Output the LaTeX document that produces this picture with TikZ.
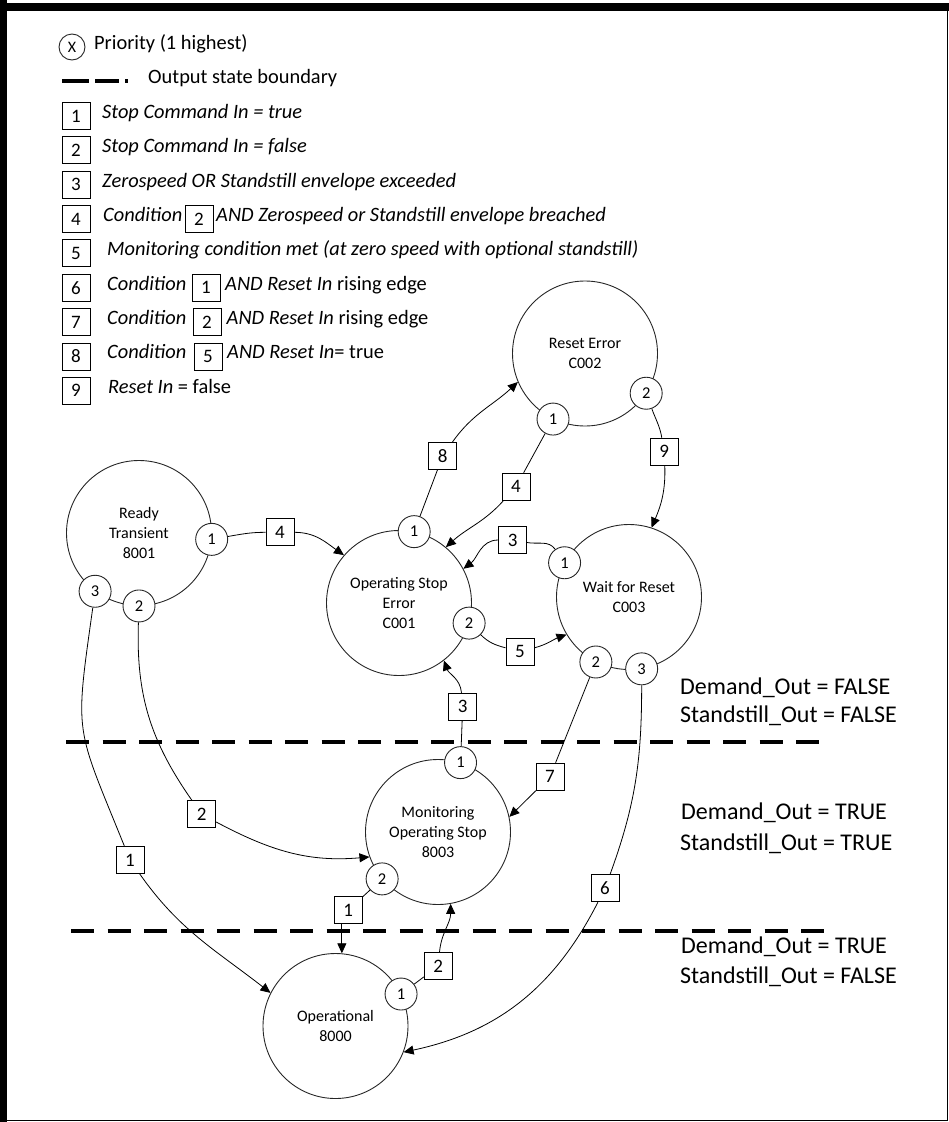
\documentclass[tikz,border=0pt]{standalone}
\usepackage{fontspec}
\setmainfont{Carlito}
\usetikzlibrary{arrows.meta,positioning}
\tikzset{
  state/.style={circle, draw=black!85, line width=0.9pt, minimum size=145pt, inner sep=0pt,
                align=center, font=\fontsize{16}{20}\selectfont},
  prio/.style={circle, draw=black!85, fill=white, line width=0.9pt, minimum size=32pt,
               inner sep=0pt, font=\fontsize{16.5}{16.5}\selectfont},
  cond/.style={rectangle, draw=black, fill=white, line width=0.9pt, minimum width=28pt,
               minimum height=27pt, inner sep=0pt, font=\fontsize{19}{19}\selectfont},
  arr/.style={-{Triangle[length=10pt,width=9pt]}, line width=0.8pt},
  wire/.style={line width=0.8pt},
  legtext/.style={anchor=mid west, inner sep=0pt, font=\fontsize{20.4}{24}\selectfont},
  outtext/.style={anchor=mid west, inner sep=0pt, font=\fontsize{24}{28}\selectfont},
  boundary/.style={line width=4pt, dash pattern=on 23pt off 13.5pt},
}

\begin{document}
\begin{tikzpicture}[x=1pt,y=1pt]
\useasboundingbox (0,0) rectangle (949,-1122);
% frame
\fill (0,0) rectangle (7,-1122);
\fill (0,-3) rectangle (949,-11);
\draw[line width=1.2pt] (947.5,-3) -- (947.5,-1120.5) -- (0,-1120.5);

% legend
\node[circle, draw=black!85, line width=0.9pt, minimum size=26pt, inner sep=0pt,
      font=\fontsize{16}{16}\selectfont] (keyX) at (72,-47) {X};
\node[legtext] (keyXt) at (94,-47) {Priority (1 highest)};
\draw[line width=3.2pt, dash pattern=on 27pt off 6pt on 24pt off 6pt on 9pt off 20pt]
  (62,-81) -- (128,-81);
\node[legtext] (keyBt) at (148,-81) {Output state boundary};
\foreach \i in {1,...,9}
  \node[cond] (key\i) at (76,{-116-34.35*(\i-1)}) {\i};
\node[legtext] (t1) at (102,-116) {\textit{Stop Command In = true}};
\node[legtext] (t2) at (102,-150.4) {\textit{Stop Command In = false}};
\node[legtext] (t3) at (102,-184.7) {\textit{Zerospeed OR Standstill envelope exceeded}};
\node[legtext] (t4a) at (103,-219) {\textit{Condition}};
\node[cond] (in4) at (199,-219) {2};
\node[legtext] (t4b) at (216,-219) {\textit{AND Zerospeed or Standstill envelope breached}};
\node[legtext] (t5) at (107,-253.4) {\textit{Monitoring condition met (at zero speed with optional standstill)}};
\node[legtext] (t6a) at (107,-287.7) {\textit{Condition}};
\node[cond] (in6) at (206,-287.7) {1};
\node[legtext] (t6b) at (225,-287.7) {\textit{AND Reset In} rising edge};
\node[legtext] (t7a) at (107,-322.1) {\textit{Condition}};
\node[cond] (in7) at (207,-322.1) {2};
\node[legtext] (t7b) at (226.5,-322.1) {\textit{AND Reset In} rising edge};
\node[legtext] (t8a) at (107,-356.5) {\textit{Condition}};
\node[cond] (in8) at (208,-356.5) {5};
\node[legtext] (t8b) at (227,-356.5) {\textit{AND Reset In}= true};
\node[legtext] (t9) at (108,-390.8) {\textit{Reset In} = false};

% output state boundaries
\draw[boundary] (66,-741.5) -- (822,-741.5);
\draw[boundary] (71,-930.5) -- (826,-930.5);
\node[outtext] (dem1) at (680,-692) {Demand\_Out = FALSE};
\node[outtext] (sst1) at (680,-720) {Standstill\_Out = FALSE};
\node[outtext] (dem2) at (681,-817) {Demand\_Out = TRUE};
\node[outtext] (sst2) at (680,-848) {Standstill\_Out = TRUE};
\node[outtext] (dem3) at (681,-951) {Demand\_Out = TRUE};
\node[outtext] (sst3) at (680,-981) {Standstill\_Out = FALSE};

% states
\node[state] (RT)  at (139,-533)   {Ready\\Transient\\8001};
\node[state] (OSE) at (399,-603)   {Operating Stop\\Error\\C001};
\node[state] (RE)  at (585,-353.5) {Reset Error\\C002};
\node[state] (WFR) at (629,-597)   {Wait for Reset\\C003};
\node[state] (MOS) at (438,-832)   {Monitoring\\Operating Stop\\8003};
\node[state] (OP)  at (335.5,-1026){Operational\\8000};

% priorities
\node[prio] (rt1)  at (RT.-5)   {1};
\node[prio] (rt2)  at (RT.-90)  {2};
\node[prio] (rt3)  at (RT.233)  {3};
\node[prio] (ose1) at (OSE.78)  {1};
\node[prio] (ose2) at (OSE.-16) {2};
\node[prio] (re1)  at (RE.244)  {1};
\node[prio] (re2)  at (RE.-33)  {2};
\node[prio] (wfr1) at (WFR.152) {1};
\node[prio] (wfr2) at (WFR.243) {2};
\node[prio] (wfr3) at (WFR.-80) {3};
\node[prio] (mos1) at (MOS.72)  {1};
\node[prio] (mos2) at (MOS.220) {2};
\node[prio] (op1)  at (OP.26)   {1};

% transition conditions
\node[cond] (c4a) at (280,-532.3)   {4};
\node[cond] (c8)  at (442.7,-456)   {8};
\node[cond] (c4b) at (516,-486.7)   {4};
\node[cond] (c3a) at (512.7,-540)   {3};
\node[cond] (c5)  at (520,-651.7)   {5};
\node[cond] (c9)  at (664.3,-451.7) {9};
\node[cond] (c3b) at (462.7,-706.7) {3};
\node[cond] (c7)  at (550,-776.7)   {7};
\node[cond] (c6)  at (605,-888.3)   {6};
\node[cond] (c1a) at (130,-860)     {1};
\node[cond] (c2a) at (201.7,-814.3) {2};
\node[cond] (c1b) at (348.3,-910)   {1};
\node[cond] (c2b) at (438.3,-966)   {2};

% transitions
\draw[wire] (rt1) to[out=10,in=180] (c4a);
\draw[arr] (c4a) to[out=0,in=145] (OSE.139);
\draw[wire] (ose1) -- (c8);
\draw[arr] (c8) to[out=55,in=223] (RE.203);
\draw[wire] (re1) -- (c4b);
\draw[arr] (c4b) to[out=228,in=42] (OSE.50);
\draw[wire] (wfr1) to[out=125,in=-10] (c3a);
\draw[arr] (c3a) to[out=180,in=37] (OSE.28);
\draw[wire] (ose2) to[out=-45,in=165] (c5);
\draw[arr] (c5) to[out=15,in=200] (WFR.211);
\draw[wire] (re2) to[out=-70,in=100] (c9);
\draw[arr] (c9) to[out=-88,in=67] (WFR.72);
\draw[wire] (mos1) -- (c3b);
\draw[arr] (c3b) to[out=95,in=-70] (OSE.-52);
\draw[wire] (wfr2) -- (c7);
\draw[arr] (c7) -- (MOS.12);
\draw[wire] (wfr3) to[out=-90,in=70] (c6);
\draw[arr] (c6) to[out=-117,in=12] (OP.-21);
\draw[wire] (rt3) to[out=-98,in=112,looseness=1.4] (c1a);
\draw[arr] (c1a) to[out=-55,in=142] (OP.153);
\draw[wire] (rt2) to[out=-92,in=125] (c2a);
\draw[arr] (c2a) to[out=-28,in=185] (MOS.200);
\draw[wire] (mos2) -- (c1b);
\draw[arr] (c1b.south -| OP.85) -- (OP.85);
\draw[wire] (op1) -- (c2b);
\draw[arr] (c2b) to[out=85,in=-90] (MOS.-80);
\end{tikzpicture}
\end{document}
